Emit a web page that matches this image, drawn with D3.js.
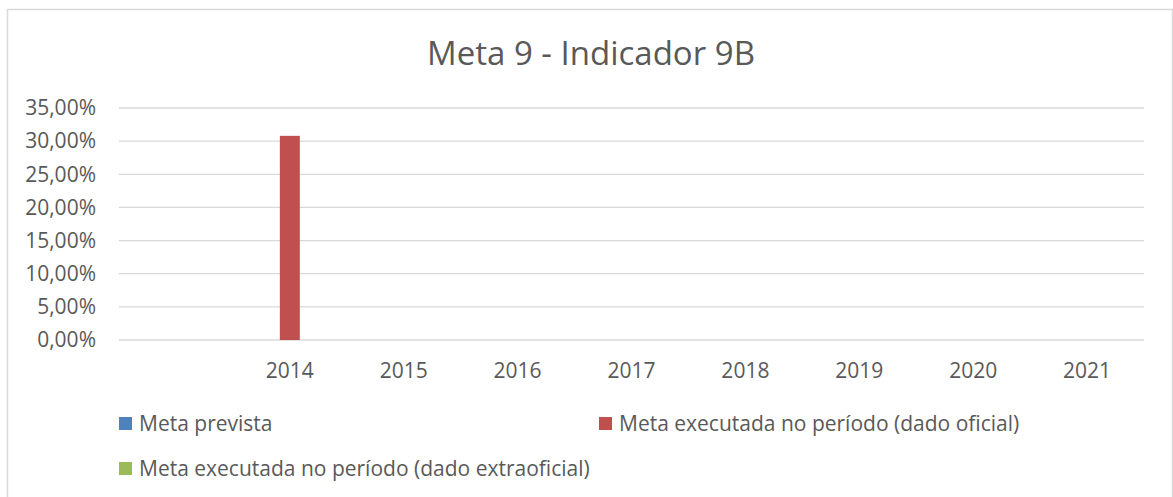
<!DOCTYPE html>
<html>
<head>
<meta charset="utf-8">
<script src="https://cdn.jsdelivr.net/npm/d3@7"></script>
<style>
  body { margin: 0; background: #fff; }
  text { font-family: "Open Sans", sans-serif; fill: #595959; }
</style>
</head>
<body>
<div class="chart"></div>
<script>
const categories = ["", "2014", "2015", "2016", "2017", "2018", "2019", "2020", "2021"];
const seriesNames = ["Meta prevista", "Meta executada no período (dado oficial)", "Meta executada no período (dado extraoficial)"];
const seriesColors = ["#4f81bd", "#c0504d", "#9bbb59"];
const metaPrevista = [null, null, null, null, null, null, null, null, null];
const metaOficial = [null, 30.8, null, null, null, null, null, null, null];
const metaExtraoficial = [null, null, null, null, null, null, null, null, null];
const yTicks = [0, 5, 10, 15, 20, 25, 30, 35];

function create_chart(){
	const width = 1173;
	const height = 497;
	const svg = d3.select('.chart')
		.append('svg')
		.attr('width', width)
		.attr('height', height)

	// outer frame
	svg.append('rect')
		.attr('x', 7.5).attr('y', 9.5)
		.attr('width', 1165).attr('height', 520)
		.attr('fill', 'none')
		.attr('stroke', '#d9d9d9')
		.attr('stroke-width', 1.5)

	svg.append('text')
		.attr('x', 591).attr('y', 65)
		.attr('text-anchor', 'middle')
		.attr('font-size', '33px')
		.text('Meta 9 - Indicador 9B')

	const x0 = d3.scaleBand().domain(categories).range([119, 1144]);
	const x1 = d3.scaleBand().domain(seriesNames).range([0, x0.bandwidth()]).paddingOuter(1.35);
	const y = d3.scaleLinear().domain([0, 35]).range([340, 108]);

	// gridlines
	svg.append('g')
		.selectAll('line')
		.data(yTicks)
		.enter()
		.append('line')
		.attr('x1', 119).attr('x2', 1144)
		.attr('y1', d => y(d)).attr('y2', d => y(d))
		.attr('stroke', '#d9d9d9')
		.attr('stroke-width', 1.3)

	const yAxis = svg.append('g')
		.attr('transform', 'translate(96,0)')
		.call(d3.axisLeft(y).tickValues(yTicks).tickSize(0).tickPadding(0)
			.tickFormat(d => d3.format('.2f')(d).replace('.', ',') + '%'))
	yAxis.select('.domain').remove()
	yAxis.selectAll('text').attr('font-size', '21px').attr('fill', '#595959').style('font-family', '"Open Sans", sans-serif')

	const xAxis = svg.append('g')
		.attr('transform', 'translate(0,340)')
		.call(d3.axisBottom(x0).tickSize(0).tickPadding(23))
	xAxis.select('.domain').remove()
	xAxis.selectAll('text').attr('font-size', '21px').attr('fill', '#595959').style('font-family', '"Open Sans", sans-serif')

	const series = [metaPrevista, metaOficial, metaExtraoficial];
	series.forEach(function(values, i){
		svg.append('g')
			.selectAll('rect')
			.data(values.map((v, j) => ({cat: categories[j], v: v})).filter(d => d.v != null))
			.enter()
			.append('rect')
			.attr('x', d => x0(d.cat) + x1(seriesNames[i]))
			.attr('y', d => y(d.v))
			.attr('width', x1.bandwidth())
			.attr('height', d => y(0) - y(d.v))
			.attr('fill', seriesColors[i])
	})

	// legend
	const legendPos = [[119, 417], [599, 417], [119, 462]];
	const legend = svg.append('g')
		.selectAll('g')
		.data(seriesNames)
		.enter()
		.append('g')
		.attr('transform', (d, i) => `translate(${legendPos[i][0]},${legendPos[i][1]})`)
	legend.append('rect')
		.attr('width', 13).attr('height', 13)
		.attr('fill', (d, i) => seriesColors[i])
	legend.append('text')
		.attr('x', 20).attr('y', 14)
		.attr('font-size', '21px')
		.text(d => d)
}

create_chart();
</script>
</body>
</html>
